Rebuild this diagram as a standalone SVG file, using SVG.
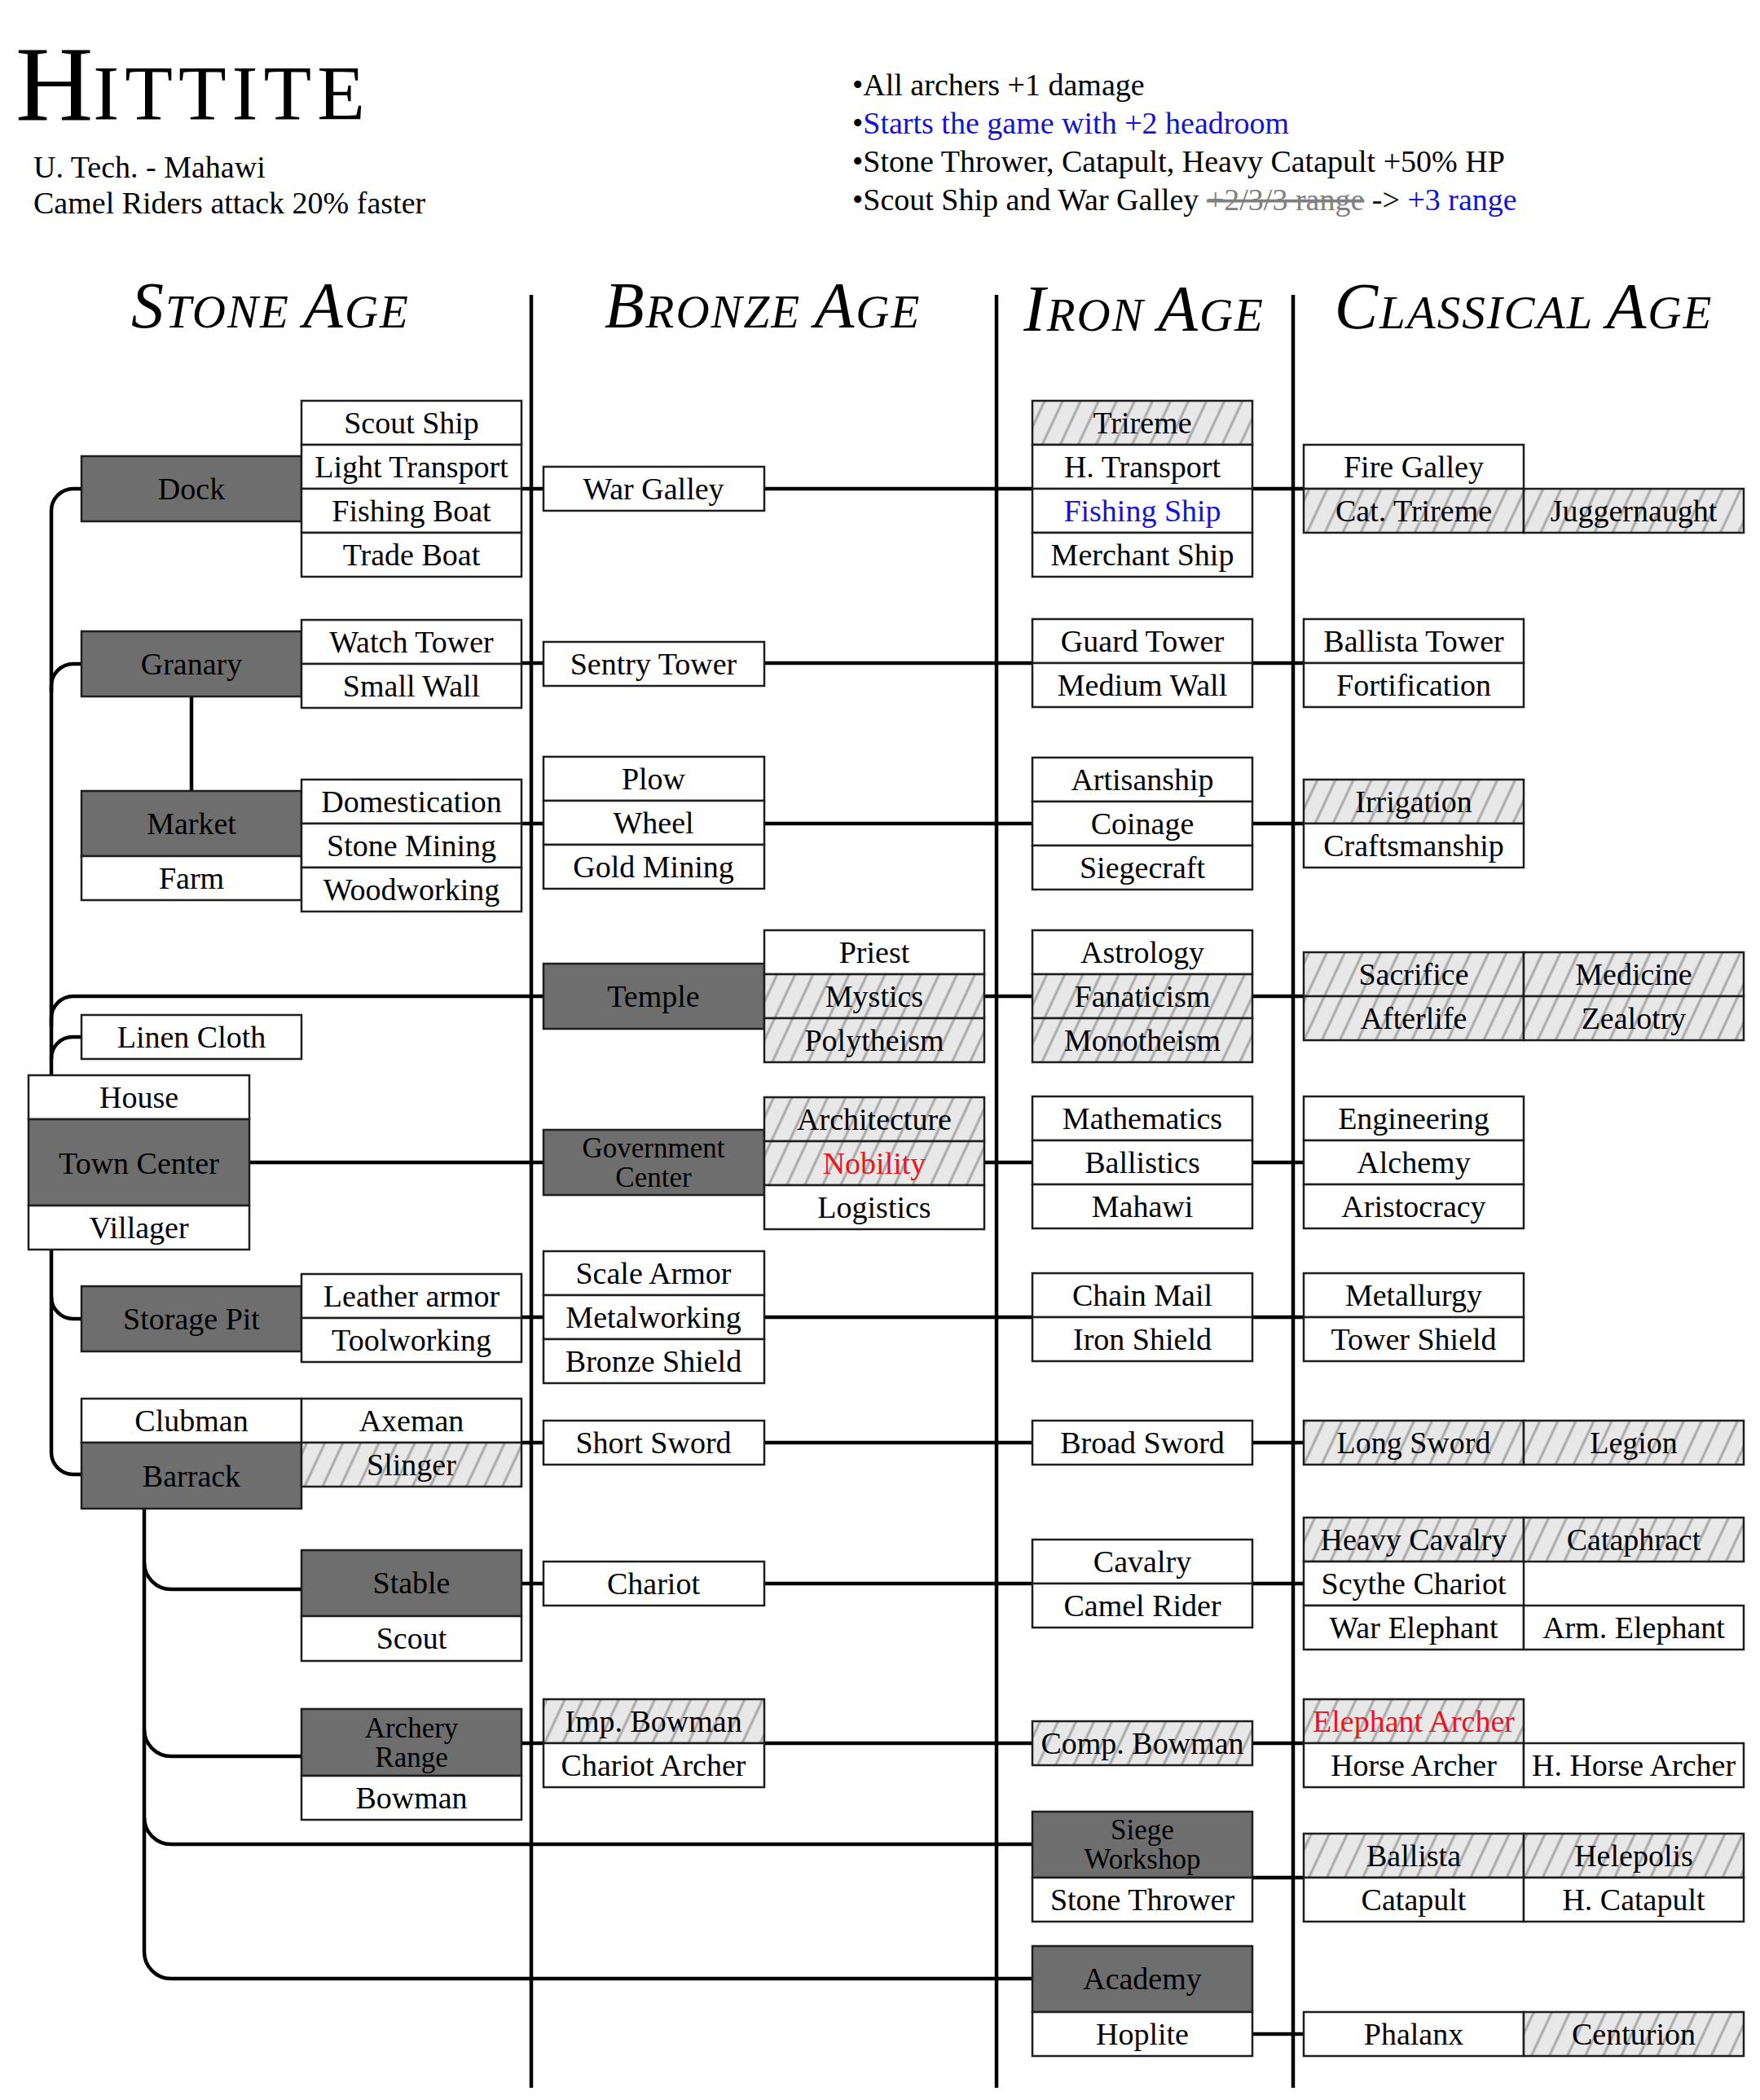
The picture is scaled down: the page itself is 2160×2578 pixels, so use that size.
<svg xmlns="http://www.w3.org/2000/svg" width="2160" height="2578" viewBox="0 0 2160 2578">
<style>
.b{fill:#fff;stroke:#1e1e1e;stroke-width:2.5}
.d{fill:#6e6e6e;stroke:#1e1e1e;stroke-width:2.5}
.h{fill:url(#hatch);stroke:#1e1e1e;stroke-width:2.5}
text{font-family:"Liberation Serif","Times New Roman",serif;fill:#000}
.t{font-size:38px;text-anchor:middle}
.t2{font-size:35px;text-anchor:middle}
.blue{fill:#1414d2}
.red{fill:#e8161e}
.c{fill:none;stroke:#000;stroke-width:4.5}
.hd{font-style:italic;text-anchor:middle;letter-spacing:2px}
.hd .big{font-size:80px}
.hd .sm{font-size:57px}
.bul{font-size:38px}
</style>
<defs>
<pattern id="hatch" width="20" height="20" patternUnits="userSpaceOnUse" patternTransform="rotate(25)">
<rect width="20" height="20" fill="#e8e8e8"/>
<line x1="10" y1="-2" x2="10" y2="22" stroke="#a9a9a9" stroke-width="3"/>
</pattern>
</defs>
<rect width="2160" height="2578" fill="#fff"/>

<g id="title">
<text x="19" y="147"><tspan font-size="132">H</tspan><tspan font-size="96" letter-spacing="7">ITTITE</tspan></text>
<text x="41" y="218" font-size="38">U. Tech. - Mahawi</text>
<text x="41" y="262" font-size="38">Camel Riders attack 20% faster</text>
</g>
<g id="bonuses" class="bul">
<text x="1046" y="117" class="bul">•All archers +1 damage</text>
<text x="1046" y="164" class="bul">•<tspan class="blue">Starts the game with +2 headroom</tspan></text>
<text x="1046" y="211" class="bul">•Stone Thrower, Catapult, Heavy Catapult +50% HP</text>
<text x="1046" y="258" class="bul">•Scout Ship and War Galley <tspan fill="#808080" text-decoration="line-through">+2/3/3 range</tspan> -&gt; <tspan class="blue">+3 range</tspan></text>
</g>
<g id="headers">
<text x="332" y="402" class="hd"><tspan class="big">S</tspan><tspan class="sm">TONE </tspan><tspan class="big">A</tspan><tspan class="sm">GE</tspan></text>
<text x="936" y="402" class="hd"><tspan class="big">B</tspan><tspan class="sm">RONZE </tspan><tspan class="big">A</tspan><tspan class="sm">GE</tspan></text>
<text x="1404" y="406" class="hd"><tspan class="big">I</tspan><tspan class="sm">RON </tspan><tspan class="big">A</tspan><tspan class="sm">GE</tspan></text>
<text x="1870" y="403" class="hd"><tspan class="big">C</tspan><tspan class="sm">LASSICAL </tspan><tspan class="big">A</tspan><tspan class="sm">GE</tspan></text>
</g>

<g id="connectors">
<path class="c" d="M652 362V2563M1223 362V2563M1587 362V2563"/>
<path class="c" d="M100 600H90A27 27 0 0 0 63 627V1783A27 27 0 0 0 90 1810H100"/>
<path class="c" d="M63 850V842A27 27 0 0 1 90 815H100"/>
<path class="c" d="M63 1260V1250A27 27 0 0 1 90 1223H667"/>
<path class="c" d="M63 1300A26 26 0 0 1 89 1273H100"/>
<path class="c" d="M63 1592A27 27 0 0 0 90 1619H100"/>
<path class="c" d="M235 855V971"/>
<path class="c" d="M306 1427H1600"/>
<path class="c" d="M640 600H1600M640 814H1600M640 1011H1600M938 1223H1600M640 1617H1600M640 1771H1600M640 1944H1600M640 2140H1600M1537 2305H1600M1537 2497H1600"/>
<path class="c" d="M177 1852V2396A33 33 0 0 0 210 2429H1267"/>
<path class="c" d="M177 1918A33 33 0 0 0 210 1951H370"/>
<path class="c" d="M177 2123A33 33 0 0 0 210 2156H370"/>
<path class="c" d="M177 2231A33 33 0 0 0 210 2264H1267"/>
</g>

<g id="dock"><rect class="d" x="100" y="560" width="270" height="80"/><text class="t" x="235" y="613">Dock</text></g>
<g id="scout-ship"><rect class="b" x="370" y="492" width="270" height="54"/><text class="t" x="505" y="532">Scout Ship</text></g>
<g id="light-transport"><rect class="b" x="370" y="546" width="270" height="54"/><text class="t" x="505" y="586">Light Transport</text></g>
<g id="fishing-boat"><rect class="b" x="370" y="600" width="270" height="54"/><text class="t" x="505" y="640">Fishing Boat</text></g>
<g id="trade-boat"><rect class="b" x="370" y="654" width="270" height="54"/><text class="t" x="505" y="694">Trade Boat</text></g>
<g id="war-galley"><rect class="b" x="667" y="573" width="271" height="54"/><text class="t" x="802" y="613">War Galley</text></g>
<g id="trireme"><rect class="h" x="1267" y="492" width="270" height="54"/><text class="t" x="1402" y="532">Trireme</text></g>
<g id="h-transport"><rect class="b" x="1267" y="546" width="270" height="54"/><text class="t" x="1402" y="586">H. Transport</text></g>
<g id="fishing-ship"><rect class="b" x="1267" y="600" width="270" height="54"/><text class="t blue" x="1402" y="640">Fishing Ship</text></g>
<g id="merchant-ship"><rect class="b" x="1267" y="654" width="270" height="54"/><text class="t" x="1402" y="694">Merchant Ship</text></g>
<g id="fire-galley"><rect class="b" x="1600" y="546" width="270" height="54"/><text class="t" x="1735" y="586">Fire Galley</text></g>
<g id="cat-trireme"><rect class="h" x="1600" y="600" width="270" height="54"/><text class="t" x="1735" y="640">Cat. Trireme</text></g>
<g id="juggernaught"><rect class="h" x="1870" y="600" width="270" height="54"/><text class="t" x="2005" y="640">Juggernaught</text></g>

<g id="granary"><rect class="d" x="100" y="775" width="270" height="80"/><text class="t" x="235" y="828">Granary</text></g>
<g id="watch-tower"><rect class="b" x="370" y="761" width="270" height="54"/><text class="t" x="505" y="801">Watch Tower</text></g>
<g id="small-wall"><rect class="b" x="370" y="815" width="270" height="54"/><text class="t" x="505" y="855">Small Wall</text></g>
<g id="sentry-tower"><rect class="b" x="667" y="788" width="271" height="54"/><text class="t" x="802" y="828">Sentry Tower</text></g>
<g id="guard-tower"><rect class="b" x="1267" y="760" width="270" height="54"/><text class="t" x="1402" y="800">Guard Tower</text></g>
<g id="medium-wall"><rect class="b" x="1267" y="814" width="270" height="54"/><text class="t" x="1402" y="854">Medium Wall</text></g>
<g id="ballista-tower"><rect class="b" x="1600" y="760" width="270" height="54"/><text class="t" x="1735" y="800">Ballista Tower</text></g>
<g id="fortification"><rect class="b" x="1600" y="814" width="270" height="54"/><text class="t" x="1735" y="854">Fortification</text></g>

<g id="market"><rect class="d" x="100" y="971" width="270" height="80"/><text class="t" x="235" y="1024">Market</text></g>
<g id="farm"><rect class="b" x="100" y="1051" width="270" height="54"/><text class="t" x="235" y="1091">Farm</text></g>
<g id="domestication"><rect class="b" x="370" y="957" width="270" height="54"/><text class="t" x="505" y="997">Domestication</text></g>
<g id="stone-mining"><rect class="b" x="370" y="1011" width="270" height="54"/><text class="t" x="505" y="1051">Stone Mining</text></g>
<g id="woodworking"><rect class="b" x="370" y="1065" width="270" height="54"/><text class="t" x="505" y="1105">Woodworking</text></g>
<g id="plow"><rect class="b" x="667" y="929" width="271" height="54"/><text class="t" x="802" y="969">Plow</text></g>
<g id="wheel"><rect class="b" x="667" y="983" width="271" height="54"/><text class="t" x="802" y="1023">Wheel</text></g>
<g id="gold-mining"><rect class="b" x="667" y="1037" width="271" height="54"/><text class="t" x="802" y="1077">Gold Mining</text></g>
<g id="artisanship"><rect class="b" x="1267" y="930" width="270" height="54"/><text class="t" x="1402" y="970">Artisanship</text></g>
<g id="coinage"><rect class="b" x="1267" y="984" width="270" height="54"/><text class="t" x="1402" y="1024">Coinage</text></g>
<g id="siegecraft"><rect class="b" x="1267" y="1038" width="270" height="54"/><text class="t" x="1402" y="1078">Siegecraft</text></g>
<g id="irrigation"><rect class="h" x="1600" y="957" width="270" height="54"/><text class="t" x="1735" y="997">Irrigation</text></g>
<g id="craftsmanship"><rect class="b" x="1600" y="1011" width="270" height="54"/><text class="t" x="1735" y="1051">Craftsmanship</text></g>

<g id="temple"><rect class="d" x="667" y="1183" width="271" height="80"/><text class="t" x="802" y="1236">Temple</text></g>
<g id="priest"><rect class="b" x="938" y="1142" width="270" height="54"/><text class="t" x="1073" y="1182">Priest</text></g>
<g id="mystics"><rect class="h" x="938" y="1196" width="270" height="54"/><text class="t" x="1073" y="1236">Mystics</text></g>
<g id="polytheism"><rect class="h" x="938" y="1250" width="270" height="54"/><text class="t" x="1073" y="1290">Polytheism</text></g>
<g id="astrology"><rect class="b" x="1267" y="1142" width="270" height="54"/><text class="t" x="1402" y="1182">Astrology</text></g>
<g id="fanaticism"><rect class="h" x="1267" y="1196" width="270" height="54"/><text class="t" x="1402" y="1236">Fanaticism</text></g>
<g id="monotheism"><rect class="h" x="1267" y="1250" width="270" height="54"/><text class="t" x="1402" y="1290">Monotheism</text></g>
<g id="sacrifice"><rect class="h" x="1600" y="1169" width="270" height="54"/><text class="t" x="1735" y="1209">Sacrifice</text></g>
<g id="medicine"><rect class="h" x="1870" y="1169" width="270" height="54"/><text class="t" x="2005" y="1209">Medicine</text></g>
<g id="afterlife"><rect class="h" x="1600" y="1223" width="270" height="54"/><text class="t" x="1735" y="1263">Afterlife</text></g>
<g id="zealotry"><rect class="h" x="1870" y="1223" width="270" height="54"/><text class="t" x="2005" y="1263">Zealotry</text></g>

<g id="linen-cloth"><rect class="b" x="100" y="1246" width="270" height="54"/><text class="t" x="235" y="1286">Linen Cloth</text></g>
<g id="house"><rect class="b" x="35" y="1320" width="271" height="54"/><text class="t" x="170.5" y="1360">House</text></g>
<g id="town-center"><rect class="d" x="35" y="1374" width="271" height="106"/><text class="t" x="170.5" y="1441">Town Center</text></g>
<g id="villager"><rect class="b" x="35" y="1480" width="271" height="54"/><text class="t" x="170.5" y="1520">Villager</text></g>

<g id="government-center"><rect class="d" x="667" y="1387" width="271" height="80"/><text class="t2" x="802" y="1421">Government</text><text class="t2" x="802" y="1457">Center</text></g>
<g id="architecture"><rect class="h" x="938" y="1347" width="270" height="54"/><text class="t" x="1073" y="1387">Architecture</text></g>
<g id="nobility"><rect class="h" x="938" y="1401" width="270" height="54"/><text class="t red" x="1073" y="1441">Nobility</text></g>
<g id="logistics"><rect class="b" x="938" y="1455" width="270" height="54"/><text class="t" x="1073" y="1495">Logistics</text></g>
<g id="mathematics"><rect class="b" x="1267" y="1346" width="270" height="54"/><text class="t" x="1402" y="1386">Mathematics</text></g>
<g id="ballistics"><rect class="b" x="1267" y="1400" width="270" height="54"/><text class="t" x="1402" y="1440">Ballistics</text></g>
<g id="mahawi"><rect class="b" x="1267" y="1454" width="270" height="54"/><text class="t" x="1402" y="1494">Mahawi</text></g>
<g id="engineering"><rect class="b" x="1600" y="1346" width="270" height="54"/><text class="t" x="1735" y="1386">Engineering</text></g>
<g id="alchemy"><rect class="b" x="1600" y="1400" width="270" height="54"/><text class="t" x="1735" y="1440">Alchemy</text></g>
<g id="aristocracy"><rect class="b" x="1600" y="1454" width="270" height="54"/><text class="t" x="1735" y="1494">Aristocracy</text></g>

<g id="storage-pit"><rect class="d" x="100" y="1579" width="270" height="80"/><text class="t" x="235" y="1632">Storage Pit</text></g>
<g id="leather-armor"><rect class="b" x="370" y="1564" width="270" height="54"/><text class="t" x="505" y="1604">Leather armor</text></g>
<g id="toolworking"><rect class="b" x="370" y="1618" width="270" height="54"/><text class="t" x="505" y="1658">Toolworking</text></g>
<g id="scale-armor"><rect class="b" x="667" y="1536" width="271" height="54"/><text class="t" x="802" y="1576">Scale Armor</text></g>
<g id="metalworking"><rect class="b" x="667" y="1590" width="271" height="54"/><text class="t" x="802" y="1630">Metalworking</text></g>
<g id="bronze-shield"><rect class="b" x="667" y="1644" width="271" height="54"/><text class="t" x="802" y="1684">Bronze Shield</text></g>
<g id="chain-mail"><rect class="b" x="1267" y="1563" width="270" height="54"/><text class="t" x="1402" y="1603">Chain Mail</text></g>
<g id="iron-shield"><rect class="b" x="1267" y="1617" width="270" height="54"/><text class="t" x="1402" y="1657">Iron Shield</text></g>
<g id="metallurgy"><rect class="b" x="1600" y="1563" width="270" height="54"/><text class="t" x="1735" y="1603">Metallurgy</text></g>
<g id="tower-shield"><rect class="b" x="1600" y="1617" width="270" height="54"/><text class="t" x="1735" y="1657">Tower Shield</text></g>

<g id="clubman"><rect class="b" x="100" y="1717" width="270" height="54"/><text class="t" x="235" y="1757">Clubman</text></g>
<g id="axeman"><rect class="b" x="370" y="1717" width="270" height="54"/><text class="t" x="505" y="1757">Axeman</text></g>
<g id="barrack"><rect class="d" x="100" y="1771" width="270" height="81"/><text class="t" x="235" y="1825">Barrack</text></g>
<g id="slinger"><rect class="h" x="370" y="1771" width="270" height="54"/><text class="t" x="505" y="1811">Slinger</text></g>
<g id="short-sword"><rect class="b" x="667" y="1744" width="271" height="54"/><text class="t" x="802" y="1784">Short Sword</text></g>
<g id="broad-sword"><rect class="b" x="1267" y="1744" width="270" height="54"/><text class="t" x="1402" y="1784">Broad Sword</text></g>
<g id="long-sword"><rect class="h" x="1600" y="1744" width="270" height="54"/><text class="t" x="1735" y="1784">Long Sword</text></g>
<g id="legion"><rect class="h" x="1870" y="1744" width="270" height="54"/><text class="t" x="2005" y="1784">Legion</text></g>

<g id="stable"><rect class="d" x="370" y="1903" width="270" height="81"/><text class="t" x="505" y="1956">Stable</text></g>
<g id="scout"><rect class="b" x="370" y="1984" width="270" height="55"/><text class="t" x="505" y="2024">Scout</text></g>
<g id="chariot"><rect class="b" x="667" y="1917" width="271" height="54"/><text class="t" x="802" y="1957">Chariot</text></g>
<g id="cavalry"><rect class="b" x="1267" y="1890" width="270" height="54"/><text class="t" x="1402" y="1930">Cavalry</text></g>
<g id="camel-rider"><rect class="b" x="1267" y="1944" width="270" height="54"/><text class="t" x="1402" y="1984">Camel Rider</text></g>
<g id="heavy-cavalry"><rect class="h" x="1600" y="1863" width="270" height="54"/><text class="t" x="1735" y="1903">Heavy Cavalry</text></g>
<g id="cataphract"><rect class="h" x="1870" y="1863" width="270" height="54"/><text class="t" x="2005" y="1903">Cataphract</text></g>
<g id="scythe-chariot"><rect class="b" x="1600" y="1917" width="270" height="54"/><text class="t" x="1735" y="1957">Scythe Chariot</text></g>
<g id="war-elephant"><rect class="b" x="1600" y="1971" width="270" height="54"/><text class="t" x="1735" y="2011">War Elephant</text></g>
<g id="arm-elephant"><rect class="b" x="1870" y="1971" width="270" height="54"/><text class="t" x="2005" y="2011">Arm. Elephant</text></g>

<g id="archery-range"><rect class="d" x="370" y="2098" width="270" height="82"/><text class="t2" x="505" y="2133">Archery</text><text class="t2" x="505" y="2169">Range</text></g>
<g id="bowman"><rect class="b" x="370" y="2180" width="270" height="54"/><text class="t" x="505" y="2220">Bowman</text></g>
<g id="imp-bowman"><rect class="h" x="667" y="2086" width="271" height="54"/><text class="t" x="802" y="2126">Imp. Bowman</text></g>
<g id="chariot-archer"><rect class="b" x="667" y="2140" width="271" height="54"/><text class="t" x="802" y="2180">Chariot Archer</text></g>
<g id="comp-bowman"><rect class="h" x="1267" y="2113" width="270" height="54"/><text class="t" x="1402" y="2153">Comp. Bowman</text></g>
<g id="elephant-archer"><rect class="h" x="1600" y="2086" width="270" height="54"/><text class="t red" x="1735" y="2126">Elephant Archer</text></g>
<g id="horse-archer"><rect class="b" x="1600" y="2140" width="270" height="54"/><text class="t" x="1735" y="2180">Horse Archer</text></g>
<g id="h-horse-archer"><rect class="b" x="1870" y="2140" width="270" height="54"/><text class="t" x="2005" y="2180">H. Horse Archer</text></g>

<g id="siege-workshop"><rect class="d" x="1267" y="2224" width="270" height="81"/><text class="t2" x="1402" y="2258">Siege</text><text class="t2" x="1402" y="2294">Workshop</text></g>
<g id="stone-thrower"><rect class="b" x="1267" y="2305" width="270" height="54"/><text class="t" x="1402" y="2345">Stone Thrower</text></g>
<g id="ballista"><rect class="h" x="1600" y="2251" width="270" height="54"/><text class="t" x="1735" y="2291">Ballista</text></g>
<g id="helepolis"><rect class="h" x="1870" y="2251" width="270" height="54"/><text class="t" x="2005" y="2291">Helepolis</text></g>
<g id="catapult"><rect class="b" x="1600" y="2305" width="270" height="54"/><text class="t" x="1735" y="2345">Catapult</text></g>
<g id="h-catapult"><rect class="b" x="1870" y="2305" width="270" height="54"/><text class="t" x="2005" y="2345">H. Catapult</text></g>

<g id="academy"><rect class="d" x="1267" y="2389" width="270" height="81"/><text class="t" x="1402" y="2442">Academy</text></g>
<g id="hoplite"><rect class="b" x="1267" y="2470" width="270" height="54"/><text class="t" x="1402" y="2510">Hoplite</text></g>
<g id="phalanx"><rect class="b" x="1600" y="2470" width="270" height="54"/><text class="t" x="1735" y="2510">Phalanx</text></g>
<g id="centurion"><rect class="h" x="1870" y="2470" width="270" height="54"/><text class="t" x="2005" y="2510">Centurion</text></g>
</svg>
